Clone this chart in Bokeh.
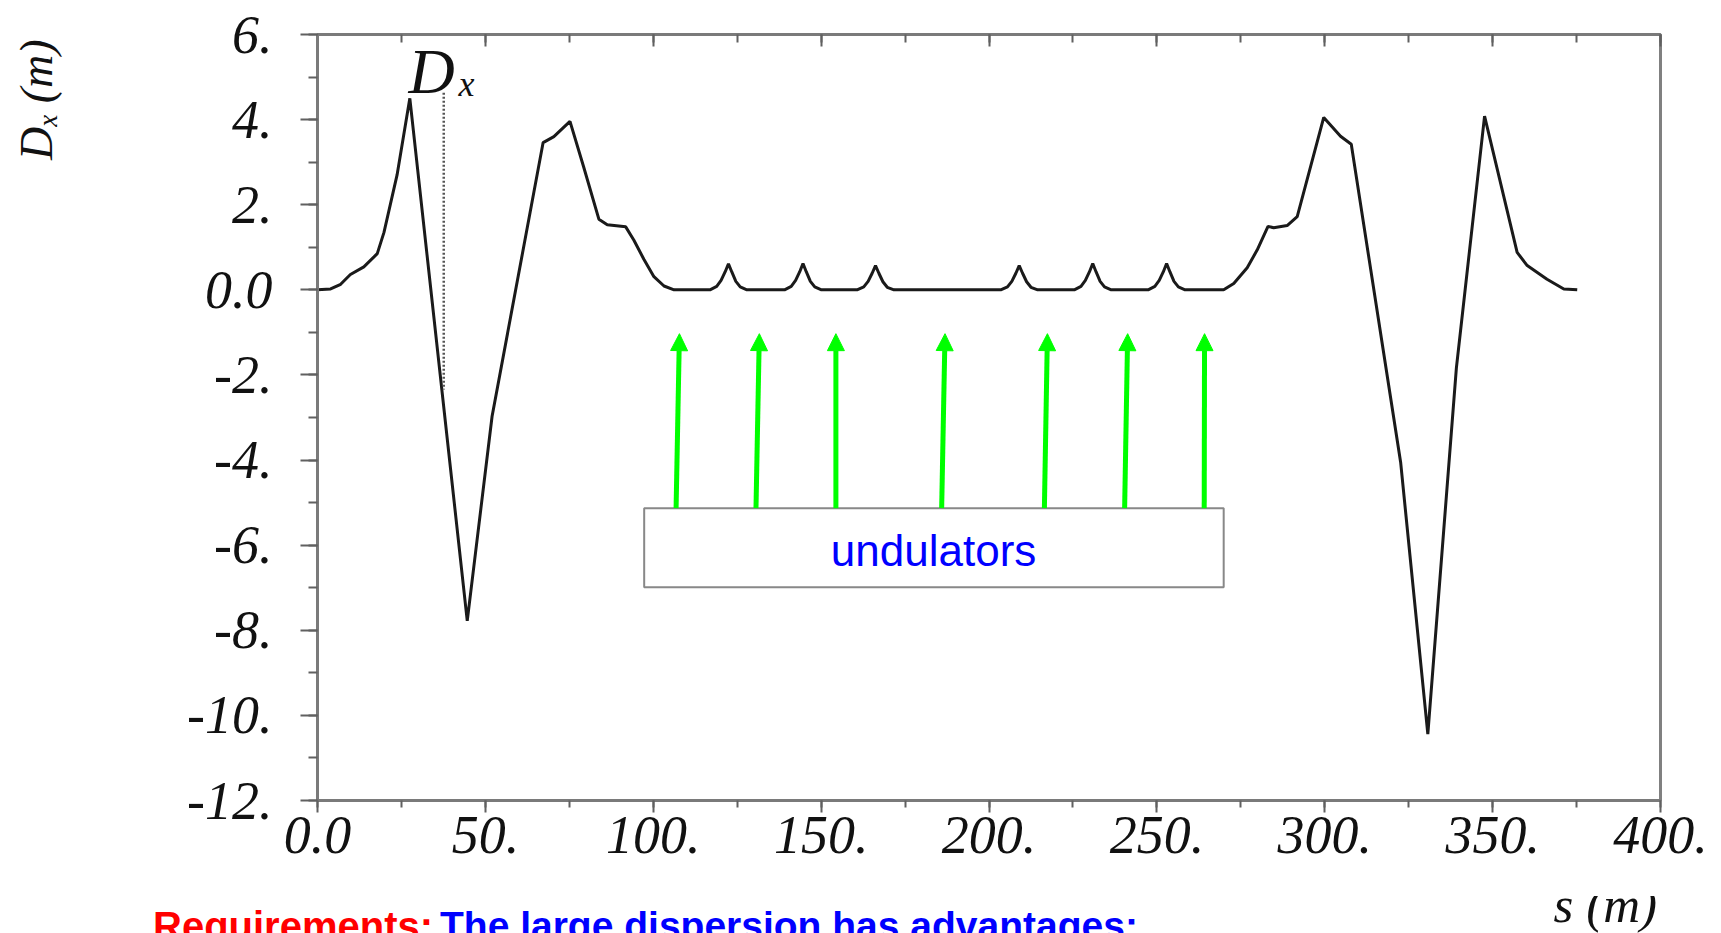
from bokeh.plotting import figure
from bokeh.layouts import column, row
from bokeh.models import (Range1d, LinearAxis, FixedTicker, Label, Arrow, NormalHead,
                          ColumnDataSource, Div)
from bokeh.embed import file_html
from bokeh.resources import INLINE

# ---------------- data ----------------
s_vals = [0.0, 3.9, 6.9, 9.8, 13.8, 17.8, 19.8, 23.7, 27.5, 44.6, 52.0, 67.2, 70.4, 75.2,
          79.3, 83.8, 86.3, 91.8, 94.2, 97.2, 100.2, 103.2, 106.2,
          116.9, 118.9, 120.2, 121.4, 122.4, 123.4, 124.6, 125.9, 127.9,
          139.1, 141.1, 142.4, 143.6, 144.6, 145.6, 146.8, 148.1, 150.1,
          160.7, 162.7, 164.0, 165.2, 166.2, 167.2, 168.4, 169.7, 171.7,
          203.5, 205.5, 206.8, 208.0, 209.0, 210.0, 211.2, 212.5, 214.5,
          225.4, 227.4, 228.7, 229.9, 230.9, 231.9, 233.1, 234.4, 236.4,
          247.4, 249.4, 250.7, 251.9, 252.9, 253.9, 255.1, 256.4, 258.4,
          269.9, 272.9, 276.9, 279.9, 283.1, 284.8, 288.8, 291.8, 299.7, 304.7, 307.9,
          322.6, 330.7, 339.2, 347.6, 357.3, 360.3, 366.2, 371.2, 375.2]
d_vals = [0.0, 0.02, 0.13, 0.36, 0.54, 0.85, 1.35, 2.70, 4.50, -7.78, -2.97, 3.46, 3.60, 3.96,
          2.88, 1.66, 1.53, 1.48, 1.17, 0.72, 0.31, 0.09, 0.0,
          0.0, 0.08, 0.22, 0.42, 0.61, 0.42, 0.20, 0.07, 0.0,
          0.0, 0.08, 0.22, 0.42, 0.62, 0.42, 0.20, 0.07, 0.0,
          0.0, 0.07, 0.20, 0.39, 0.57, 0.39, 0.19, 0.06, 0.0,
          0.0, 0.07, 0.20, 0.39, 0.57, 0.39, 0.19, 0.06, 0.0,
          0.0, 0.08, 0.22, 0.42, 0.62, 0.42, 0.20, 0.07, 0.0,
          0.0, 0.08, 0.22, 0.42, 0.62, 0.42, 0.20, 0.07, 0.0,
          0.0, 0.15, 0.52, 0.94, 1.49, 1.46, 1.51, 1.72, 4.05, 3.61, 3.42,
          -4.05, -10.44, -1.84, 4.08, 0.88, 0.57, 0.25, 0.02, 0.0]

x_ticks = [0, 50, 100, 150, 200, 250, 300, 350, 400]
x_minor = [0, 25, 50, 75, 100, 125, 150, 175, 200, 225, 250, 275, 300, 325, 350, 375, 400]
x_tick_labels = ["0.0", "50.", "100.", "150.", "200.", "250.", "300.", "350.", "400."]
y_ticks = [6, 4, 2, 0, -2, -4, -6, -8, -10, -12]
y_minor = [6, 5, 4, 3, 2, 1, 0, -1, -2, -3, -4, -5, -6, -7, -8, -9, -10, -11, -12]
y_tick_labels = ["6.", "4.", "2.", "0.0", "-2.", "-4.", "-6.", "-8.", "-10.", "-12."]

arrow_s_bottom = [106.8, 130.6, 154.4, 185.9, 216.5, 240.4, 264.1]
arrow_s_top = [107.8, 131.6, 154.4, 186.9, 217.4, 241.3, 264.2]
arrow_d_bottom = [-5.13] * 7
arrow_d_top = [-1.03] * 7

box_left, box_right, box_top, box_bottom = [97.3], [269.9], [-5.13], [-6.99]
dotted_s = [37.6, 37.6]
dotted_d = [4.63, -2.34]

y_title_main = "D"
y_title_sub = "x"
y_title_unit = " (m)"
x_title = "s (m)"
caption_red = "Requirements:"
caption_blue = "The large dispersion has advantages:"

# ---------------- layout sizes ----------------
PAGE_W = 1721
LEFT_W = 70
FIG_W, FIG_H = PAGE_W - LEFT_W, 896
STRIP_H = 37

p = figure(width=FIG_W, height=FIG_H, x_range=Range1d(0, 400), y_range=Range1d(-12, 6),
           output_backend="svg", toolbar_location=None,
           min_border_left=317 - LEFT_W, min_border_right=61, min_border_top=34, min_border_bottom=96)
p.grid.visible = False
p.outline_line_color = "#808080"
p.outline_line_width = 3
p.background_fill_color = "white"
p.border_fill_color = "white"

serif = "Liberation Serif"
sans = "Liberation Sans"

xa = p.below[0]
xa.ticker = FixedTicker(ticks=x_ticks, minor_ticks=x_minor)
xa.major_label_overrides = {t: l for t, l in zip(x_ticks, x_tick_labels)}
ya = p.left[0]
ya.ticker = FixedTicker(ticks=y_ticks, minor_ticks=y_minor)
ya.major_label_overrides = {t: l for t, l in zip(y_ticks, y_tick_labels)}

for ax in (xa, ya):
    ax.axis_line_color = "#7a7a7a"
    ax.axis_line_width = 3
    ax.major_tick_line_color = "#606060"
    ax.minor_tick_line_color = "#606060"
    ax.major_tick_line_width = 2
    ax.minor_tick_line_width = 2
    ax.major_label_text_font = serif
    ax.major_label_text_font_style = "italic"
    ax.major_label_text_font_size = "54px"
    ax.major_label_text_color = "#111111"

xa.major_tick_in = 0
xa.major_tick_out = 12
xa.minor_tick_in = 0
xa.minor_tick_out = 7
xa.major_label_standoff = 4
ya.major_tick_in = 0
ya.major_tick_out = 17
ya.minor_tick_in = 0
ya.minor_tick_out = 9
ya.major_label_standoff = 28

top = LinearAxis(ticker=FixedTicker(ticks=x_ticks, minor_ticks=x_minor))
top.major_label_text_font_size = "0px"
top.major_label_text_alpha = 0
top.axis_line_color = "#7a7a7a"
top.axis_line_width = 3
top.major_tick_in = 12
top.major_tick_out = 0
top.minor_tick_in = 8
top.minor_tick_out = 0
top.major_tick_line_color = "#606060"
top.minor_tick_line_color = "#606060"
top.major_tick_line_width = 2
top.minor_tick_line_width = 2
top.major_label_standoff = 0
p.add_layout(top, "above")

# curve
p.line(s_vals, d_vals, line_color="#1a1a1a", line_width=3)
p.line(dotted_s, dotted_d, line_color="#555555", line_width=2.5, line_dash="2 2")

# undulator box
p.quad(left=box_left, right=box_right, top=box_top, bottom=box_bottom,
       fill_color="white", line_color="#888888", line_width=2)

arrow_src = ColumnDataSource(dict(x0=arrow_s_bottom, y0=arrow_d_bottom, x1=arrow_s_top, y1=arrow_d_top))
p.add_layout(Arrow(end=NormalHead(size=17, fill_color="#00ff00", line_color="#00ff00", line_width=1),
                   x_start="x0", y_start="y0", x_end="x1", y_end="y1", source=arrow_src,
                   line_color="#00ff00", line_width=5))

# texts inside the frame
p.add_layout(Label(x=183.5, y=-6.12, text="undulators", text_font=sans, text_font_size="44px",
                   text_color="#0000ff", text_align="center", text_baseline="middle"))
p.add_layout(Label(x=27.1, y=5.13, text="D", text_font=serif, text_font_style="italic",
                   text_font_size="64px", text_color="#111111", text_baseline="middle"))
p.add_layout(Label(x=42.0, y=4.84, text="x", text_font=serif, text_font_style="italic",
                   text_font_size="36px", text_color="#111111", text_baseline="middle"))

# left strip: vertical y-axis title
left_html = (
    '<div style="position:relative;width:%dpx;height:%dpx;overflow:hidden;background:white;">'
    '<span style="position:absolute;left:0;top:0;transform-origin:0 0;'
    'transform:translate(14px,160px) rotate(-90deg);white-space:nowrap;line-height:46px;'
    'font-family:\'Liberation Serif\';font-style:italic;font-size:46px;color:#111111;">'
    '%s<span style="font-size:27px;position:relative;top:5px;">%s</span>%s</span></div>'
) % (LEFT_W, FIG_H, y_title_main, y_title_sub, y_title_unit)
left_div = Div(text=left_html, width=LEFT_W, height=FIG_H, margin=0)

# bottom strip: x title and cut-off caption
strip_html = (
    '<div style="position:relative;width:%dpx;height:%dpx;overflow:hidden;background:white;">'
    '<span style="position:absolute;right:64px;top:-16px;line-height:50px;white-space:nowrap;'
    'font-family:\'Liberation Serif\';font-style:italic;font-size:51px;color:#111111;">%s</span>'
    '<span style="position:absolute;left:153px;top:10px;line-height:40px;white-space:nowrap;'
    'font-family:\'Liberation Sans\';font-weight:bold;font-size:40px;color:#ff0000;">%s</span>'
    '<span style="position:absolute;left:440px;top:10px;line-height:40px;white-space:nowrap;'
    'font-family:\'Liberation Sans\';font-weight:bold;font-size:39px;color:#0000ff;">%s</span>'
    '</div>'
) % (PAGE_W, STRIP_H, x_title, caption_red, caption_blue)
strip = Div(text=strip_html, width=PAGE_W, height=STRIP_H, margin=0)

layout = column(row(left_div, p, spacing=0), strip, spacing=0)
open("out.html", "w").write(file_html(layout, INLINE))
